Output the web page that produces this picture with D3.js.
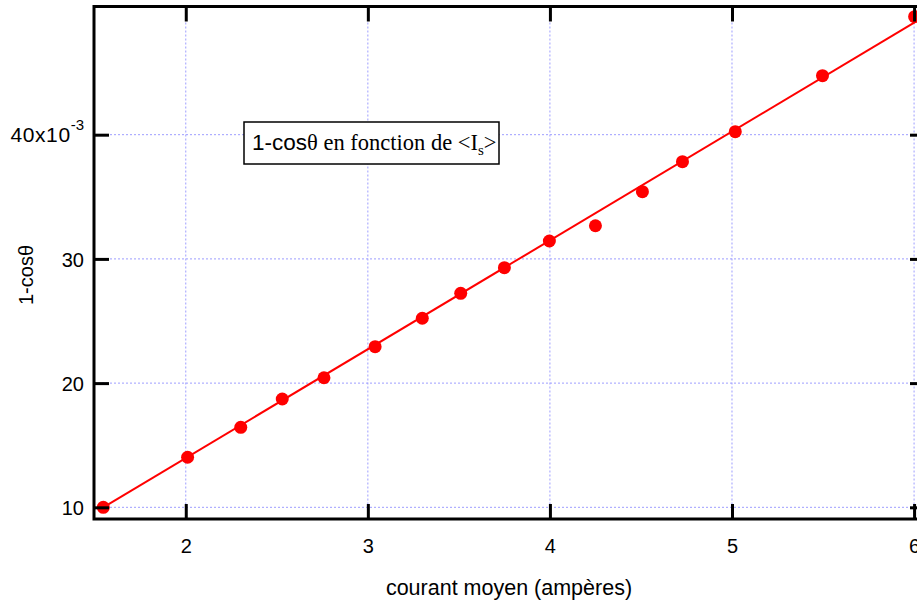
<!DOCTYPE html>
<html>
<head>
<meta charset="utf-8">
<script src="https://cdn.jsdelivr.net/npm/d3@7"></script>
<style>
  html, body { margin: 0; padding: 0; background: #fff; }
  svg { display: block; }
</style>
</head>
<body>
<svg id="chart" width="917" height="601"></svg>
<script>
// ---- data (y values in units of 10^-3) ----
const courant = [1.547, 2.010, 2.302, 2.530, 2.759, 3.040, 3.299, 3.510, 3.750, 3.997, 4.250, 4.508, 4.728, 5.018, 5.497, 6.003];
const unMoinsCos = [10.0, 14.03, 16.44, 18.72, 20.43, 22.93, 25.22, 27.23, 29.29, 31.44, 32.67, 35.41, 37.83, 40.24, 44.75, 49.5];
const fitSlope = 8.76;
const fitIntercept = -3.55;
const xTicks = [2, 3, 4, 5, 6];
const yTicks = [10, 20, 30, 40];
const xDomain = [1.496, 6.06];
const yDomain = [9.06, 50.32];

(function () {
const svg = d3.select("#chart");
const pL = 94, pR = 925, pT = 6.5, pB = 519;

const x = d3.scaleLinear().domain(xDomain).range([pL, pR]);
const y = d3.scaleLinear().domain(yDomain).range([pB, pT]);

const gridColor = "#9d9dff";

// grid lines
svg.append("g").selectAll("line").data(xTicks).join("line")
  .attr("x1", d => x(d)).attr("x2", d => x(d))
  .attr("y1", pT).attr("y2", pB)
  .attr("stroke", gridColor).attr("stroke-width", 1).attr("stroke-dasharray", "2,2");
svg.append("g").selectAll("line").data(yTicks).join("line")
  .attr("x1", pL).attr("x2", pR)
  .attr("y1", d => y(d)).attr("y2", d => y(d))
  .attr("stroke", gridColor).attr("stroke-width", 1).attr("stroke-dasharray", "2,2");

// fit line
const xr = d3.extent(courant);
svg.append("line")
  .attr("x1", x(xr[0])).attr("y1", y(fitIntercept + fitSlope * xr[0]))
  .attr("x2", x(xr[1])).attr("y2", y(fitIntercept + fitSlope * xr[1]))
  .attr("stroke", "#ff0000").attr("stroke-width", 2);

// points
svg.append("g").selectAll("circle").data(courant).join("circle")
  .attr("cx", d => x(d)).attr("cy", (d, i) => y(unMoinsCos[i]))
  .attr("r", 6.5).attr("fill", "#ff0000");

// axes (ticks inward, all four sides)
const tickLen = 15;
const fontFamily = "'Liberation Sans', Arial, sans-serif";

const axB = d3.axisBottom(x).tickValues(xTicks).tickSize(-tickLen).tickPadding(20).tickFormat(d3.format("d"));
const gB = svg.append("g").attr("transform", `translate(0,${pB})`).call(axB);
const axT = d3.axisTop(x).tickValues(xTicks).tickSize(-tickLen).tickFormat("");
const gT = svg.append("g").attr("transform", `translate(0,${pT})`).call(axT);
const axL = d3.axisLeft(y).tickValues(yTicks).tickSize(-tickLen).tickPadding(10).tickFormat(d3.format("d"));
const gL = svg.append("g").attr("transform", `translate(${pL},0)`).call(axL);
const axR = d3.axisRight(y).tickValues(yTicks).tickSize(-tickLen).tickFormat("");
const gR = svg.append("g").attr("transform", `translate(${pR},0)`).call(axR);

[gB, gT, gL, gR].forEach(g => {
  g.select(".domain").remove();
  g.selectAll(".tick line").attr("stroke", "#000").attr("stroke-width", 3);
  g.selectAll("text").attr("font-family", fontFamily).attr("font-size", 20).attr("fill", "#000");
});
gB.selectAll(".tick text").attr("dy", "0.71em");
gL.selectAll(".tick text").attr("dy", "0.36em");

// top y label with exponent
gL.selectAll(".tick text").filter(d => d === 40).each(function(d) {
  const t = d3.select(this);
  t.text(null);
  t.append("tspan").attr("font-size", 21).attr("letter-spacing", 0.6).text(d + "x10");
  t.append("tspan").attr("font-size", 15).attr("dy", "-0.8em").text("-3");
});

// frame
svg.append("rect")
  .attr("x", pL).attr("y", pT)
  .attr("width", pR - pL).attr("height", pB - pT)
  .attr("fill", "none").attr("stroke", "#000").attr("stroke-width", 3);

// axis titles
svg.append("text")
  .attr("x", 509).attr("y", 595)
  .attr("text-anchor", "middle")
  .attr("font-family", fontFamily).attr("font-size", 21.5)
  .text("courant moyen (ampères)");

svg.append("text")
  .attr("transform", "translate(33,275) rotate(-90)")
  .attr("text-anchor", "middle")
  .attr("font-family", fontFamily).attr("font-size", 20)
  .text("1-cosθ");

// legend box
const lg = svg.append("g");
lg.append("rect")
  .attr("x", 244).attr("y", 122).attr("width", 255).attr("height", 42)
  .attr("fill", "#fff").attr("stroke", "#000").attr("stroke-width", 1.5);
const serif = "'Liberation Serif', 'Times New Roman', serif";
const lt = lg.append("text").attr("x", 252).attr("y", 150).attr("font-size", 22.5).attr("fill", "#000");
lt.append("tspan").attr("font-family", fontFamily).text("1-cos");
lt.append("tspan").attr("font-family", serif).text("θ en fonction de <I");
lt.append("tspan").attr("font-family", serif).attr("font-size", 15).attr("dy", 5).text("s");
lt.append("tspan").attr("font-family", serif).attr("dy", -5).text(">");
})();
</script>
</body>
</html>
